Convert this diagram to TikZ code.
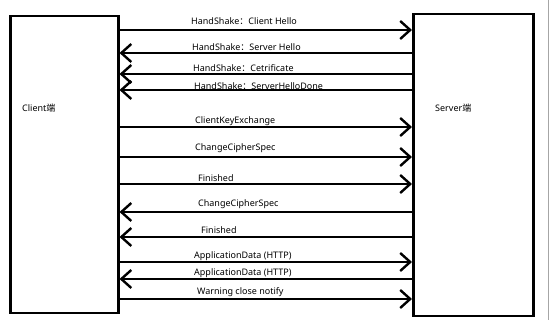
\documentclass[tikz,border=0pt]{standalone}
\usepackage{fontspec}
\setmainfont{Noto Sans}
\newfontfamily\cjk{Noto Sans CJK SC}
\usetikzlibrary{arrows.meta}
\begin{document}
\begin{tikzpicture}[x=1pt,y=-1pt,
  party/.style={draw=black,line width=2.5pt,fill=white,anchor=north west,inner sep=0pt},
  msg/.style={line width=2.4pt,-{Straight Barb[length=10pt,width=18pt,line width=2.4pt]}},
  lbl/.style={anchor=west,font=\fontsize{9}{10}\selectfont,inner sep=0pt}]
\useasboundingbox (0,0) rectangle (550,320);
\fill[white] (0,0) rectangle (550,320);
\draw[black!35,line width=0.6pt] (548.5,0) -- (548.5,320);
\node[party,minimum width=108pt,minimum height=297pt] (client) at (9,15) {};
\node[party,minimum width=120pt,minimum height=302pt] (server) at (412,13) {};
\node[lbl] (ctext) at (22,108) {Client{\cjk 端}};
\node[lbl] (stext) at (435,108) {Server{\cjk 端}};
\foreach \i/\y/\d/\lx/\ly/\t in {
  1/30/r/191/21/{HandShake{\cjk ：}Client Hello},
  2/53/l/192/47/{HandShake{\cjk ：}Server Hello},
  3/74/l/193/68/{HandShake{\cjk ：}Cetrificate},
  4/90/l/194/86/{HandShake{\cjk ：}ServerHelloDone},
  5/127/r/195/121/{ClientKeyExchange},
  6/157/r/195/148/{ChangeCipherSpec},
  7/184/r/198/178/{Finished},
  8/212/l/198/204/{ChangeCipherSpec},
  9/237/l/201/230/{Finished},
  10/262/r/194/256/{ApplicationData (HTTP)},
  11/279/l/194/273/{ApplicationData (HTTP)},
  12/299/r/197/292/{Warning close notify}}{
  \coordinate (m\i) at (300,\y);
  \node[lbl] (t\i) at (\lx,\ly) {\t};
  \if r\d
    \draw[msg] (client.east |- m\i) -- (server.west |- m\i);
  \else
    \draw[msg] (server.west |- m\i) -- (client.east |- m\i);
  \fi
}
\end{tikzpicture}
\end{document}
